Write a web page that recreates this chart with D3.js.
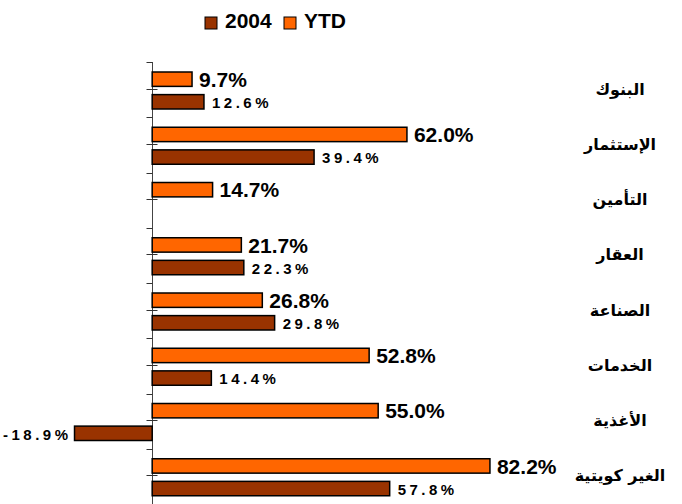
<!DOCTYPE html>
<html>
<head>
<meta charset="utf-8">
<script src="https://cdnjs.cloudflare.com/ajax/libs/d3/7.8.5/d3.min.js"></script>
<style>
  body { margin: 0; background: #fff; }
  svg { display: block; }
</style>
</head>
<body>
<svg id="canvas" width="682" height="504"></svg>
<script>
const categories = ["البنوك", "الإستثمار", "التأمين", "العقار", "الصناعة", "الخدمات", "الأغذية", "الغير كويتية"];
const seriesNames = ["YTD", "2004"];
const ytdValues = [9.7, 62.0, 14.7, 21.7, 26.8, 52.8, 55.0, 82.2];
const values2004 = [12.6, 39.4, null, 22.3, 29.8, 14.4, -18.9, 57.8];
const legendOrder = ["2004", "YTD"];

const colors = { "YTD": "#ff6600", "2004": "#993300" };

const svg = d3.select("#canvas");
const width = +svg.attr("width");
const height = +svg.attr("height");

const x = d3.scaleLinear().domain([-20, 90]).range([70, 522]);
const y = d3.scaleBand().domain(categories).range([62, 504]);
const inner = d3.scaleBand().domain(seriesNames).range([10, 47]).paddingInner(0.364);

const rows = categories.map((c, i) => ({
  cat: c,
  YTD: ytdValues[i],
  "2004": values2004[i]
}));

// axis line + ticks (band edges and centres)
const x0 = Math.round(x(0)) + 0.5;
svg.append("line")
  .attr("x1", x0).attr("x2", x0)
  .attr("y1", y.range()[0]).attr("y2", y.range()[1])
  .attr("stroke", "#444").attr("stroke-width", 1);

const edgeTicks = categories.map((c) => y(c));
svg.selectAll(".edgeTick")
  .data(edgeTicks)
  .enter()
  .append("line")
  .attr("x1", x0 - 6).attr("x2", x0)
  .attr("y1", (d) => Math.round(d) + 0.5).attr("y2", (d) => Math.round(d) + 0.5)
  .attr("stroke", "#333");

svg.selectAll(".midTick")
  .data(categories)
  .enter()
  .append("line")
  .attr("x1", x0 - 6).attr("x2", x0 + 5)
  .attr("y1", (d) => Math.round(y(d) + inner.step() + 4) + 0.5)
  .attr("y2", (d) => Math.round(y(d) + inner.step() + 4) + 0.5)
  .attr("stroke", "#333");

// bars
const groups = svg.selectAll(".cat")
  .data(rows)
  .enter()
  .append("g")
  .attr("transform", (d) => `translate(0,${y(d.cat)})`);

seriesNames.forEach((s) => {
  const sel = groups.filter((d) => d[s] !== null);

  sel.append("rect")
    .attr("x", (d) => x(Math.min(0, d[s])))
    .attr("y", inner(s))
    .attr("width", (d) => Math.abs(x(d[s]) - x(0)))
    .attr("height", inner.bandwidth())
    .attr("fill", colors[s])
    .attr("stroke", "#000")
    .attr("stroke-width", 1.5);

  sel.append("text")
    .attr("x", (d) => d[s] < 0 ? x(d[s]) - 3 : x(d[s]) + (s == "YTD" ? 7 : 8))
    .attr("y", inner(s) + inner.bandwidth() + (s == "YTD" ? 0.5 : -1))
    .attr("text-anchor", (d) => d[s] < 0 ? "end" : "start")
    .attr("font-family", "Liberation Sans, Arial, sans-serif")
    .attr("font-weight", "bold")
    .attr("font-size", s == "YTD" ? 21 : 15)
    .attr("letter-spacing", s == "YTD" ? 0 : 3.5)
    .attr("fill", "#000")
    .text((d) => d[s].toFixed(1) + "%");
});

// category labels
svg.selectAll(".catLabel")
  .data(categories)
  .enter()
  .append("text")
  .attr("x", 620)
  .attr("y", (d) => y(d) + y.bandwidth() / 2 + 5)
  .attr("text-anchor", "middle")
  .attr("direction", "rtl")
  .attr("font-family", "DejaVu Sans, sans-serif")
  .attr("font-weight", "bold")
  .attr("font-size", 16)
  .attr("fill", "#000")
  .text((d) => d);

// legend
const legendX = [205, 284];
const legend = svg.selectAll(".legend")
  .data(legendOrder)
  .enter()
  .append("g")
  .attr("transform", (d, i) => `translate(${legendX[i]},17)`);

legend.append("rect")
  .attr("width", 12).attr("height", 12)
  .attr("fill", (d) => colors[d])
  .attr("stroke", "#000")
  .attr("stroke-width", 1);

legend.append("text")
  .attr("x", 20)
  .attr("y", 11)
  .attr("font-family", "Liberation Sans, Arial, sans-serif")
  .attr("font-weight", "bold")
  .attr("font-size", 21)
  .attr("fill", "#000")
  .text((d) => d);
</script>
</body>
</html>
